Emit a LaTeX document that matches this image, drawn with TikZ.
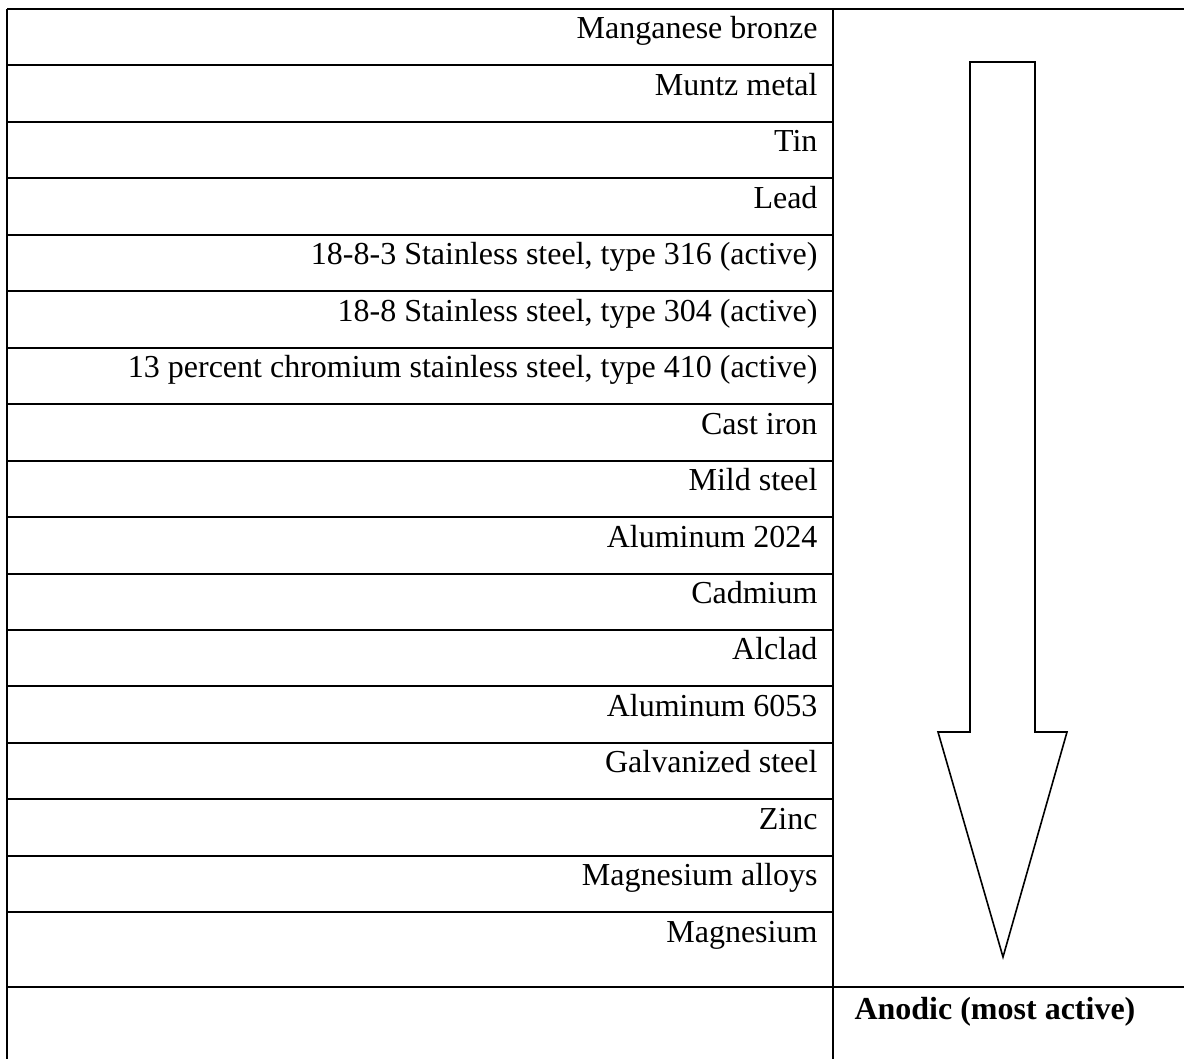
\documentclass[tikz,border=0pt]{standalone}
\usepackage{fontspec}
\setmainfont{Liberation Serif}
\begin{document}
\begin{tikzpicture}[x=0.375pt,y=-0.375pt,
  rule/.style={line width=0.75pt,black},
  arr/.style={line width=0.6pt,black,fill=white},
  metal/.style={anchor=base east,inner sep=0pt,font=\fontsize{12pt}{14pt}\selectfont},
  anodic/.style={anchor=base west,inner sep=0pt,font=\fontsize{12pt}{14pt}\selectfont\bfseries}]
\useasboundingbox (0,0) rectangle (1184,1059);
% table rules
\draw[rule] (7,9) -- (1184,9);
\foreach \i in {1,...,16}{
  \draw[rule] (7,{9+\i*56.45}) -- (833,{9+\i*56.45});
}
\draw[rule] (7,987) -- (1184,987);
\draw[rule] (7,9) -- (7,1059);
\draw[rule] (833,9) -- (833,1059);
% metals
\foreach \t [count=\k from 0] in {Manganese bronze,Muntz metal,Tin,Lead,
  {18-8-3 Stainless steel, type 316 (active)},
  {18-8 Stainless steel, type 304 (active)},
  {13 percent chromium stainless steel, type 410 (active)},
  Cast iron,Mild steel,Aluminum 2024,Cadmium,Alclad,Aluminum 6053,
  Galvanized steel,Zinc,Magnesium alloys,Magnesium}{
  \node[metal] (m\k) at (818,{9+\k*56.45+30}) {\t};
}
\node[anodic] (anodic) at (854,1019) {Anodic (most active)};
% arrow
\draw[arr,line join=miter] (970,62) -- (1035,62) -- (1035,732) -- (1067,732)
  -- (1003,957) -- (938,732) -- (970,732) -- cycle;
\end{tikzpicture}
\end{document}
